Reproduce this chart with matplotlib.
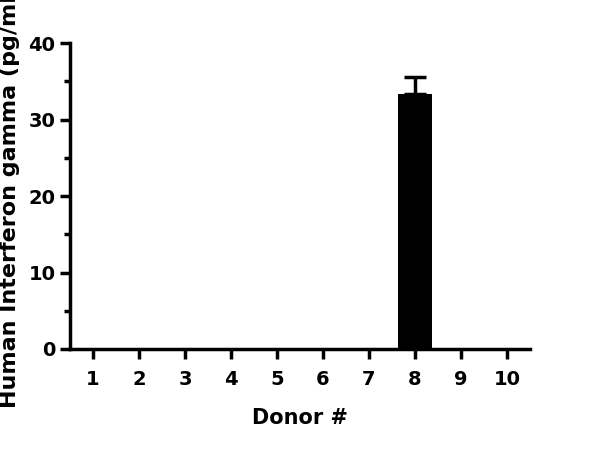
import matplotlib
matplotlib.use("Agg")
import matplotlib.pyplot as plt
from matplotlib.ticker import MultipleLocator

donors = [1, 2, 3, 4, 5, 6, 7, 8, 9, 10]
ifn_gamma = [0, 0, 0, 0, 0, 0, 0, 33.4, 0, 0]
ifn_err = [0, 0, 0, 0, 0, 0, 0, 2.2, 0, 0]

plt.rcParams['font.family'] = ['DejaVu Sans']
plt.rcParams['font.weight'] = 'bold'

fig = plt.figure(figsize=(6, 4.53), dpi=100)
ax = fig.add_axes([0.1167, 0.2296, 0.7666, 0.6754])

ax.bar(donors, ifn_gamma, width=0.76, color='black', linewidth=0, zorder=2)

# upper error bars only, for donors with a response
ex = [d for d, e in zip(donors, ifn_err) if e > 0]
ey = [v for v, e in zip(ifn_gamma, ifn_err) if e > 0]
ee = [e for e in ifn_err if e > 0]
ax.errorbar(ex, ey, yerr=[[0] * len(ee), ee], fmt='none', ecolor='black',
            elinewidth=2.5, capsize=8, capthick=2.5, zorder=1)

ax.set_xlim(0.5, 10.5)
ax.set_ylim(0, 40)
ax.set_xticks(donors)
ax.yaxis.set_major_locator(MultipleLocator(10))
ax.yaxis.set_minor_locator(MultipleLocator(5))

for s in ['top', 'right']:
    ax.spines[s].set_visible(False)
for s in ['left', 'bottom']:
    ax.spines[s].set_linewidth(2.5)
    ax.spines[s].set_zorder(3)

ax.tick_params(which='major', length=7, width=2.5, labelsize=14)
ax.tick_params(axis='x', which='major', pad=8)
ax.tick_params(which='minor', length=4, width=2.5)
ax.tick_params(axis='x', which='minor', length=0)

ax.set_xlabel("Donor #", fontsize=15, fontweight='bold', labelpad=14)
ax.set_ylabel("Human Interferon gamma (pg/ml)", fontsize=16, fontweight='bold', labelpad=6)

fig.savefig("out.png", dpi=100)
